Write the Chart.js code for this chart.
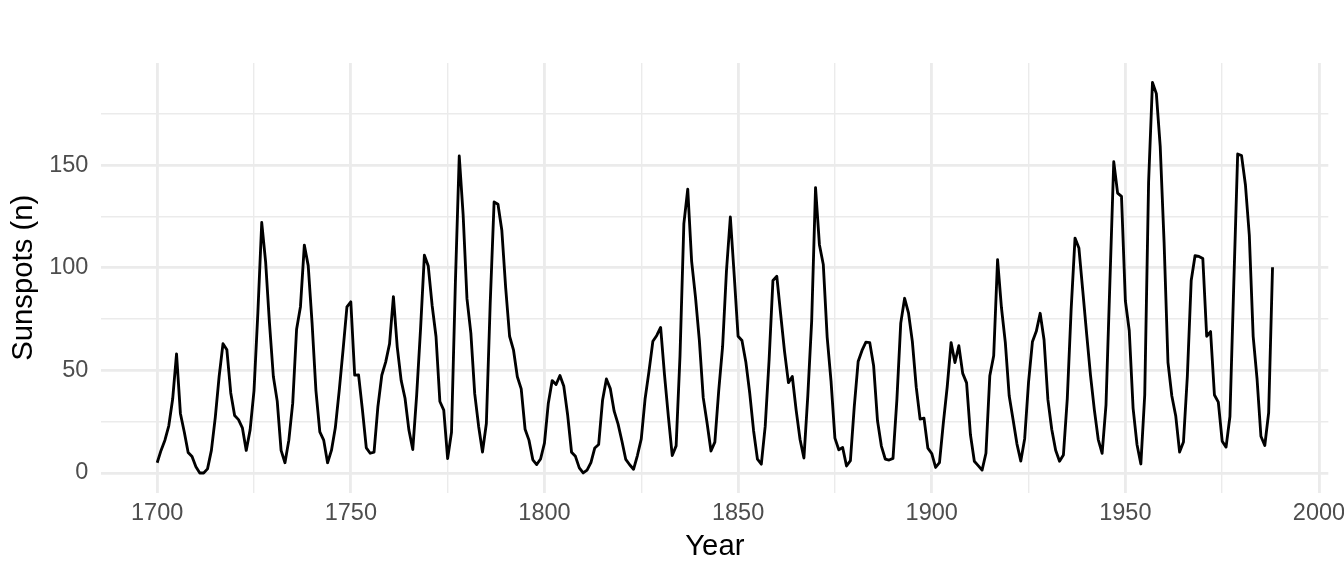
<!DOCTYPE html>
<html>
<head>
<meta charset="utf-8">
<title>Sunspots</title>
<script src="https://cdn.jsdelivr.net/npm/chart.js@4"></script>
<style>
  html, body { margin: 0; padding: 0; background: #ffffff; }
  #wrap { width: 1344px; height: 576px; }
</style>
</head>
<body>
<div id="wrap"><canvas id="sunChart" width="1344" height="576"></canvas></div>
<script>
// Yearly sunspot numbers, 1700 - 1988
const sunspots = [
  5, 11, 16, 23, 36, 58, 29, 20, 10, 8,
  3, 0, 0, 2, 11, 27, 47, 63, 60, 39,
  28, 26, 22, 11, 21, 40, 78, 122, 103, 73,
  47, 35, 11, 5, 16, 34, 70, 81, 111, 101,
  73, 40, 20, 16, 5, 11, 22, 40, 60, 80.9,
  83.4, 47.7, 47.8, 30.7, 12.2, 9.6, 10.2, 32.4, 47.6, 54,
  62.9, 85.9, 61.2, 45.1, 36.4, 20.9, 11.4, 37.8, 69.8, 106.1,
  100.8, 81.6, 66.5, 34.8, 30.6, 7, 19.8, 92.5, 154.4, 125.9,
  84.8, 68.1, 38.5, 22.8, 10.2, 24.1, 82.9, 132, 130.9, 118.1,
  89.9, 66.6, 60, 46.9, 41, 21.3, 16, 6.4, 4.1, 6.8,
  14.5, 34, 45, 43.1, 47.5, 42.2, 28.1, 10.1, 8.1, 2.5,
  0, 1.4, 5, 12.2, 13.9, 35.4, 45.8, 41.1, 30.1, 23.9,
  15.6, 6.6, 4, 1.8, 8.5, 16.6, 36.3, 49.6, 64.2, 67,
  70.9, 47.8, 27.5, 8.5, 13.2, 56.9, 121.5, 138.3, 103.2, 85.7,
  64.6, 36.7, 24.2, 10.7, 15, 40.1, 61.5, 98.5, 124.7, 96.3,
  66.6, 64.5, 54.1, 39, 20.6, 6.7, 4.3, 22.7, 54.8, 93.8,
  95.8, 77.2, 59.1, 44, 47, 30.5, 16.3, 7.3, 37.6, 74,
  139, 111.2, 101.6, 66.2, 44.7, 17, 11.3, 12.4, 3.4, 6,
  32.3, 54.3, 59.7, 63.7, 63.5, 52.2, 25.4, 13.1, 6.8, 6.3,
  7.1, 35.6, 73, 85.1, 78, 64, 41.8, 26.2, 26.7, 12.1,
  9.5, 2.7, 5, 24.4, 42, 63.5, 53.8, 62, 48.5, 43.9,
  18.6, 5.7, 3.6, 1.4, 9.6, 47.4, 57.1, 103.9, 80.6, 63.6,
  37.6, 26.1, 14.2, 5.8, 16.7, 44.3, 63.9, 69, 77.8, 64.9,
  35.7, 21.2, 11.1, 5.7, 8.7, 36.1, 79.7, 114.4, 109.6, 88.8,
  67.8, 47.5, 30.6, 16.3, 9.6, 33.2, 92.6, 151.6, 136.3, 134.7,
  83.9, 69.4, 31.5, 13.9, 4.4, 38, 141.7, 190.2, 184.8, 159,
  112.3, 53.9, 37.5, 27.9, 10.2, 15.1, 47, 93.8, 105.9, 105.5,
  104.5, 66.6, 68.9, 38, 34.5, 15.5, 12.6, 27.5, 92.5, 155.4,
  154.6, 140.4, 115.9, 66.6, 45.9, 17.9, 13.4, 29.4, 100.2
];
const years = sunspots.map((_, i) => 1700 + i);

// Tick labels (major) and grid positions (major + minor)
const xTickLabels = [1700, 1750, 1800, 1850, 1900, 1950, 2000];
const xGrid = [1700, 1725, 1750, 1775, 1800, 1825, 1850, 1875, 1900, 1925, 1950, 1975, 2000];
const yTickLabels = [0, 50, 100, 150];
const yGrid = [0, 25, 50, 75, 100, 125, 150, 175];

// ggplot-style 5% expansion of the data range
const xSpan = years[years.length - 1] - years[0];
const yMax = Math.max(...sunspots);
const yMin = Math.min(...sunspots);
const ySpan = yMax - yMin;

const gridColor = "#EBEBEB";
const major = 2.84;
const minor = 1.42;
const fontFamily = "'Liberation Sans', Arial, Helvetica, sans-serif";

const ctx = document.getElementById("sunChart").getContext("2d");
new Chart(ctx, {
  type: "line",
  data: {
    datasets: [
      {
        data: years.map((y, i) => ({ x: y, y: sunspots[i] })),
        borderColor: "#000000",
        borderWidth: 2.84,
        borderJoinStyle: "round",
        pointRadius: 0,
        tension: 0,
        fill: false,
      },
    ],
  },
  options: {
    responsive: false,
    animation: false,
    devicePixelRatio: 1,
    layout: { padding: { top: 63, right: 15.7, left: 0, bottom: 0 } },
    plugins: {
      legend: { display: false },
      tooltip: { enabled: false },
    },
    scales: {
      x: {
        type: "linear",
        min: years[0] - xSpan * 0.05,
        max: years[years.length - 1] + xSpan * 0.05,
        afterBuildTicks: (scale) => {
          scale.ticks = xGrid.map((v) => ({ value: v }));
        },
        afterFit: (scale) => {
          scale.height = 83.5;
          scale.paddingLeft = 0;
          scale.paddingRight = 0;
        },
        border: { display: false },
        grid: {
          color: gridColor,
          drawTicks: false,
          lineWidth: (c) => (xTickLabels.includes(c.tick.value) ? major : minor),
        },
        ticks: {
          padding: 7,
          color: "#4D4D4D",
          font: { family: fontFamily, size: 23.5 },
          maxRotation: 0,
          autoSkip: false,
          callback: (v) => (xTickLabels.includes(v) ? String(v) : ""),
        },
        title: {
          display: true,
          text: "Year",
          color: "#000000",
          font: { family: fontFamily, size: 29.3 },
          padding: { top: 0, bottom: 12 },
        },
      },
      y: {
        min: yMin - ySpan * 0.05,
        max: yMax + ySpan * 0.05,
        afterBuildTicks: (scale) => {
          scale.ticks = yGrid.map((v) => ({ value: v }));
        },
        afterFit: (scale) => {
          scale.width = 101.4;
          scale.paddingTop = 0;
          scale.paddingBottom = 0;
        },
        border: { display: false },
        grid: {
          color: gridColor,
          drawTicks: false,
          lineWidth: (c) => (yTickLabels.includes(c.tick.value) ? major : minor),
        },
        ticks: {
          padding: 13,
          color: "#4D4D4D",
          font: { family: fontFamily, size: 23.5 },
          autoSkip: false,
          callback: (v) => (yTickLabels.includes(v) ? String(v) : ""),
        },
        title: {
          display: true,
          text: "Sunspots (n)",
          color: "#000000",
          font: { family: fontFamily, size: 29.3 },
          padding: { top: 6.5, bottom: 0 },
        },
      },
    },
  },
});
</script>
</body>
</html>
